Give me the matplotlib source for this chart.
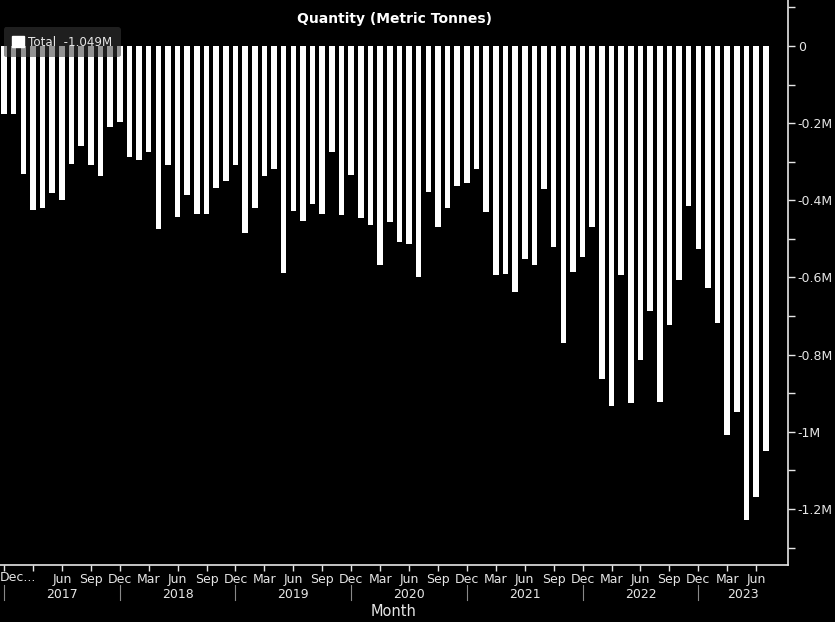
import numpy as np
import matplotlib
matplotlib.use("Agg")
from matplotlib import pyplot as plt
from matplotlib import transforms as mtransforms
from matplotlib.patches import Patch

# monthly quantity, Dec 2016 .. Jul 2023, in millions of metric tonnes
months = 80
quantity = [
    -0.176, -0.176, -0.332, -0.424, -0.419, -0.382, -0.400, -0.306, -0.260, -0.309,
    -0.338, -0.210, -0.198, -0.289, -0.296, -0.275, -0.475, -0.309, -0.442, -0.385,
    -0.436, -0.436, -0.369, -0.351, -0.309, -0.484, -0.419, -0.338, -0.320, -0.588,
    -0.429, -0.453, -0.410, -0.436, -0.275, -0.439, -0.335, -0.447, -0.465, -0.567,
    -0.455, -0.507, -0.512, -0.600, -0.379, -0.470, -0.421, -0.364, -0.356, -0.318,
    -0.431, -0.593, -0.590, -0.637, -0.551, -0.568, -0.371, -0.521, -0.770, -0.586,
    -0.546, -0.468, -0.863, -0.933, -0.593, -0.926, -0.814, -0.687, -0.923, -0.723,
    -0.606, -0.416, -0.526, -0.627, -0.718, -1.009, -0.949, -1.229, -1.169, -1.049,
]
month_names = ['Dec', 'Jan', 'Feb', 'Mar', 'Apr', 'May', 'Jun', 'Jul', 'Aug',
               'Sep', 'Oct', 'Nov']
years = [2017, 2018, 2019, 2020, 2021, 2022, 2023]
y_ticks = [0, -0.2, -0.4, -0.6, -0.8, -1.0, -1.2]
y_labels = ['0', '-0.2M', '-0.4M', '-0.6M', '-0.8M', '-1M', '-1.2M']

fg = '#e6e6e6'
plt.rcParams['font.family'] = ['DejaVu Sans']

fig = plt.figure(figsize=(8.35, 6.22), dpi=100, facecolor='black')
ax = fig.add_axes([0.0, 0.0916, 0.9437, 0.9084], facecolor='black')

x = np.arange(months)
ax.bar(x, quantity, width=0.58, color='white', zorder=2)

ax.set_xlim(-0.42, 81.3)
ax.set_ylim(-1.345, 0.119)

# right-hand y axis
ax.yaxis.tick_right()
ax.set_yticks(y_ticks)
ax.set_yticklabels(y_labels)
ax.set_yticks(np.arange(0.1, -1.35, -0.2), minor=True)
ax.tick_params(axis='y', which='both', colors=fg, labelsize=9, length=5,
               width=1, pad=2)
for s in ['top', 'left']:
    ax.spines[s].set_visible(False)
for s in ['right', 'bottom']:
    ax.spines[s].set_color(fg)
    ax.spines[s].set_linewidth(1.2)

# quarterly ticks on x axis
qpos = list(range(0, months, 3))
qlab = [month_names[i % 12] for i in qpos]
qlab[0] = ''
qlab[1] = ''
ax.set_xticks(qpos)
ax.set_xticklabels(qlab)
ax.tick_params(axis='x', colors=fg, labelsize=9, length=4, width=1, pad=1.5)
ax.text(0, -0.01, 'Dec...', transform=ax.transAxes, ha='left', va='top',
        color=fg, fontsize=9)

# year row
trans = mtransforms.blended_transform_factory(ax.transData, ax.transAxes)
bounds = [i for i in range(0, months, 12)] + [81.3]
for i, yr in enumerate(years):
    left = bounds[i]
    right = bounds[i + 1]
    ax.text((left + right) / 2, -0.04, str(yr), transform=trans,
            ha='center', va='top', color=fg, fontsize=9)
for b in bounds[:-1]:
    ax.plot([b, b], [-0.035, -0.062], transform=trans, color='#888888',
            lw=0.8, clip_on=False)

fig.text(0.4719, 1 - 612 / 622, 'Month', ha='center', va='center',
         color=fg, fontsize=10.5)

fig.text(0.4719, 1 - 19 / 622, 'Quantity (Metric Tonnes)', ha='center',
         va='center', color='white', fontsize=10, fontweight='bold')

leg = ax.legend(handles=[Patch(facecolor='white', edgecolor='white')],
                labels=['Total  -1.049M'], loc='upper left',
                bbox_to_anchor=(-0.003, 0.962), frameon=True, fontsize=8.6,
                handlelength=1.0, handleheight=1.0, handletextpad=0.35,
                borderpad=0.7, fancybox=True)
leg.get_frame().set_facecolor('#3a3a3a')
leg.get_frame().set_alpha(0.55)
leg.get_frame().set_edgecolor('none')
for t in leg.get_texts():
    t.set_color(fg)

fig.savefig('out.png', dpi=100, facecolor='black')
